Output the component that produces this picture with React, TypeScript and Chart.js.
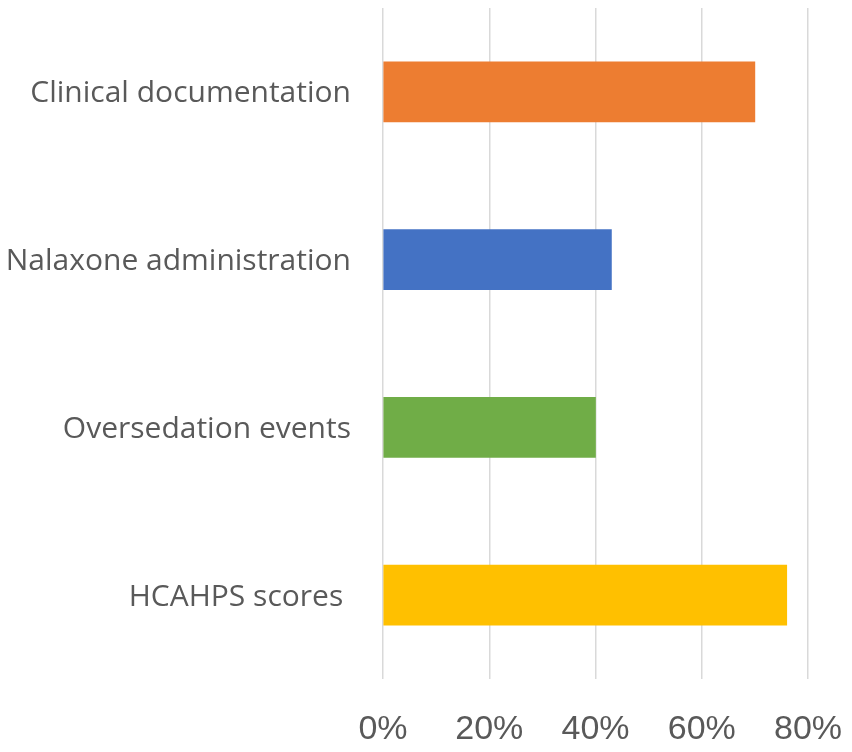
import React, { useEffect, useRef } from "react";
import { Chart, registerables } from "chart.js";

Chart.register(...registerables);

const categories = [
  "Clinical documentation",
  "Nalaxone administration",
  "Oversedation events",
  "HCAHPS scores ",
];
const values = [70, 43, 40, 76];
const barColors = ["#ED7D31", "#4472C4", "#70AD47", "#FFC000"];
const xTicks = [0, 20, 40, 60, 80];

const zeroPad = (s: any) => {
  s.paddingLeft = 0;
  s.paddingRight = 0;
  s.paddingTop = 0;
  s.paddingBottom = 0;
};

export default function App() {
  const ref = useRef<HTMLCanvasElement | null>(null);
  useEffect(() => {
    if (!ref.current) return;
    const chart = new Chart(ref.current, {
      type: "bar",
      data: {
        labels: categories,
        datasets: [
          {
            data: values,
            backgroundColor: barColors,
            barThickness: 60,
          },
        ],
      },
      options: {
        indexAxis: "y",
        animation: false,
        responsive: false,
        maintainAspectRatio: false,
        layout: { padding: { top: 8, right: 44, left: 0, bottom: 0 } },
        plugins: { legend: { display: false }, tooltip: { enabled: false } },
        scales: {
          x: {
            min: 0,
            max: 80,
            afterBuildTicks: (s: any) => {
              s.ticks = xTicks.map((v) => ({ value: v }));
            },
            afterFit: (s: any) => {
              s.height = 73;
              zeroPad(s);
            },
            grid: { color: "#d9d9d9", lineWidth: 1.5, drawTicks: false },
            border: { display: false },
            ticks: {
              color: "#595959",
              font: { family: "Liberation Sans", size: 34 },
              padding: 30,
              maxRotation: 0,
              callback: (v: any) => v + "%",
            },
          },
          y: {
            afterFit: (s: any) => {
              s.width = 383;
              zeroPad(s);
            },
            grid: { display: false, drawTicks: false },
            border: { display: false },
            ticks: {
              color: "#595959",
              font: { family: "Open Sans", size: 30 },
              padding: 32,
              labelOffset: 2,
            },
          },
        },
      },
    });
    return () => chart.destroy();
  }, []);
  return (
    <div style={{ position: "fixed", left: 0, top: 0, width: 852, height: 752, background: "#fff" }}>
      <canvas ref={ref} width={852} height={752} />
    </div>
  );
}
